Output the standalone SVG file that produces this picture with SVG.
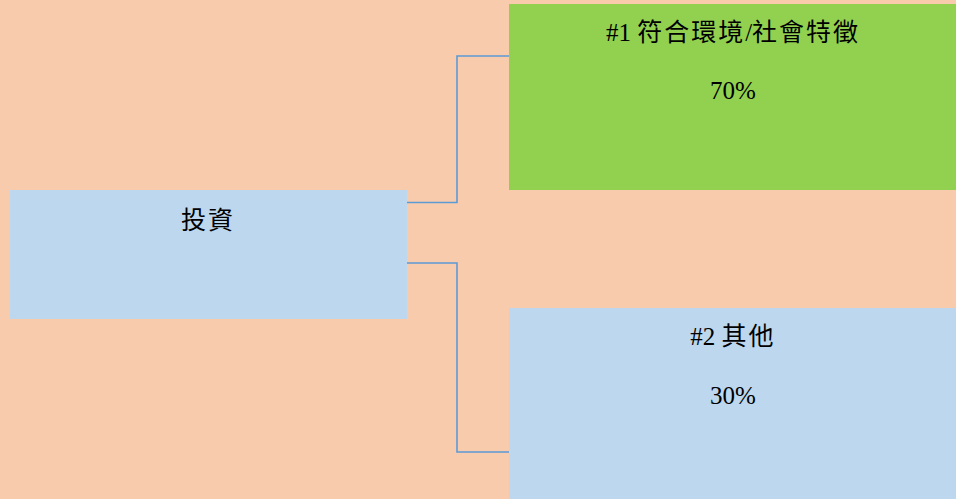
<svg xmlns="http://www.w3.org/2000/svg" width="956" height="499" viewBox="0 0 956 499">
<style>
.t{font-family:"Liberation Serif","Noto Sans CJK TC",serif;font-size:25px;fill:#000;text-anchor:middle}
.k{letter-spacing:2px}
.c{fill:none;stroke:#5B9BD5;stroke-width:1.6}
</style>
<rect width="956" height="499" fill="#F8CBAD"/>
<g id="connectors">
<path class="c" d="M407 202.5H457V56H509"/>
<path class="c" d="M407 263H457V452H509"/>
</g>
<g id="invest">
<rect x="10" y="190" width="397" height="129" fill="#BDD7EE"/>
<text class="t k" x="208" y="229">投資</text>
</g>
<g id="n1">
<rect x="509" y="4" width="447" height="186" fill="#92D050"/>
<text class="t" x="733" y="41">#1 <tspan class="k">符合環境</tspan>/<tspan class="k">社會特徵</tspan></text>
<text class="t" x="733" y="99">70%</text>
</g>
<g id="n2">
<rect x="509" y="308" width="447" height="191" fill="#BDD7EE"/>
<text class="t" x="733" y="345">#2 <tspan class="k">其他</tspan></text>
<text class="t" x="733" y="404">30%</text>
</g>
</svg>
